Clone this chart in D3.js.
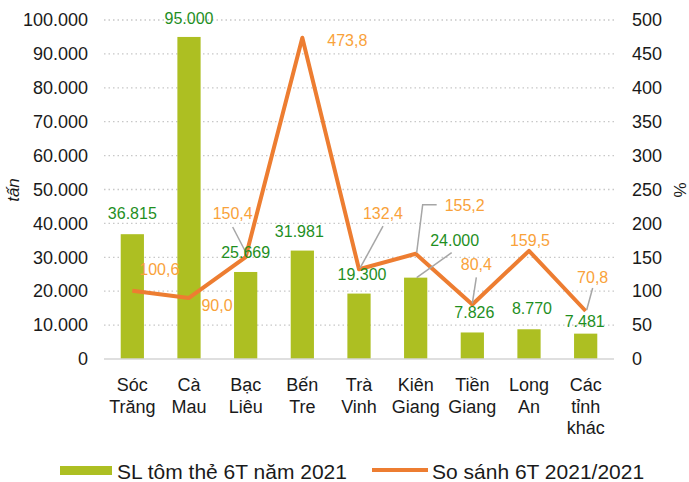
<!DOCTYPE html>
<html><head><meta charset="utf-8">
<script src="https://cdn.jsdelivr.net/npm/d3@7"></script>
<style>body{margin:0;background:#fff}svg{display:block;font-family:"Liberation Sans",Arial,sans-serif}</style>
</head><body><svg id="c" width="689" height="482"></svg>
<script>
const categories = [["Sóc","Trăng"],["Cà","Mau"],["Bạc","Liêu"],["Bến","Tre"],["Trà","Vinh"],["Kiên","Giang"],["Tiền","Giang"],["Long","An"],["Các","tỉnh","khác"]];
const volume = [36815, 95000, 25669, 31981, 19300, 24000, 7826, 8770, 7481];
const ratio = [100.6, 90.0, 150.4, 473.8, 132.4, 155.2, 80.4, 159.5, 70.8];
const leftTicks = [0,10000,20000,30000,40000,50000,60000,70000,80000,90000,100000];
const rightTicks = [0,50,100,150,200,250,300,350,400,450,500];
const seriesNames = ["SL tôm thẻ 6T năm 2021", "So sánh 6T 2021/2021"];

// label placement (dx, dy relative to mark; leader elbows)
const volLabelOff = [[0,-21],[0,-19],[0,-20],[-3,-20],[3,-20],[39,-38],[2,-20],[3,-21],[-1,-13]];
const ratLabelOff = [[27,-22],[28,7],[-13,-44],[45,2],[24,-56],[49,-49],[4,-40],[1,-11],[7,-34]];
const ratLeader = [null,null,[[-13,-30],[1,-3]],null,[[24,-43],[1,-1]],[[1,-1],[7,-49],[21,-49]],[[4,-27],[0,-1]],null,[[7,-23],[1,-1]]];
const volLeader = [null,null,null,null,null,[[1,0],[36,-25]],null,null,null];

const svg = d3.select("#c");
const m = {l:104, r:614, t:20, b:359};
const x = d3.scaleBand().domain(d3.range(categories.length)).range([m.l, m.r]).paddingInner(0.59).paddingOuter(0.295);
const yL = d3.scaleLinear().domain([0,100000]).range([m.b, m.t]);
const yR = d3.scaleLinear().domain([0,500]).range([m.b, m.t]);
const fmt = v => d3.format(",")(v).replace(/,/g,".");
const fmtR = v => v.toFixed(1).replace(".",",");

// grid
svg.append("g").selectAll("line").data(leftTicks.filter(d=>d>0)).join("line")
  .attr("x1",m.l).attr("x2",m.r).attr("y1",d=>yL(d)).attr("y2",d=>yL(d))
  .attr("stroke","#c8c8c8").attr("stroke-width",1.3).attr("stroke-dasharray","1.5,3");

// axes
const axL = svg.append("g").attr("transform",`translate(${m.l},0)`)
  .call(d3.axisLeft(yL).tickValues(leftTicks).tickFormat(fmt).tickSize(0).tickPadding(16));
const axR = svg.append("g").attr("transform",`translate(${m.r},0)`)
  .call(d3.axisRight(yR).tickValues(rightTicks).tickSize(0).tickPadding(18));
[axL, axR].forEach(a=>{a.select(".domain").remove(); a.selectAll("text").attr("font-size",18).attr("fill","#1a1a1a").attr("font-family","Liberation Sans, Arial, sans-serif");});

// bars
svg.append("g").selectAll("rect").data(volume).join("rect")
  .attr("x",(d,i)=>x(i)).attr("width",x.bandwidth())
  .attr("y",d=>yL(d)).attr("height",d=>m.b-yL(d)).attr("fill","#adbf22");

// baseline
svg.append("line").attr("x1",m.l).attr("x2",m.r).attr("y1",m.b).attr("y2",m.b).attr("stroke","#d4d4d4").attr("stroke-width",1.5);

// x labels
const xl = svg.append("g").selectAll("text").data(categories).join("text")
  .attr("x",(d,i)=>x(i)+x.bandwidth()/2).attr("y",391).attr("text-anchor","middle")
  .attr("font-size",18).attr("fill","#1a1a1a");
xl.selectAll("tspan").data(d=>d).join("tspan").attr("x",function(){return this.parentNode.getAttribute("x");})
  .attr("dy",(d,i)=>i?21.5:0).text(d=>d);

// line
const cx = i => x(i)+x.bandwidth()/2;
svg.append("path").datum(ratio).attr("fill","none").attr("stroke","#ed7d31").attr("stroke-width",4).attr("stroke-linejoin","round")
  .attr("d", d3.line().x((d,i)=>cx(i)).y(d=>yR(d)));

// leaders
const leaderG = svg.append("g").attr("fill","none").attr("stroke","#a6a6a6").attr("stroke-width",1.5);
ratio.forEach((v,i)=>{ if(!ratLeader[i]) return; const px=cx(i), py=yR(v);
  leaderG.append("polyline").attr("points", ratLeader[i].map(p=>[px+p[0],py+p[1]].join(",")).join(" ")); });
volume.forEach((v,i)=>{ if(!volLeader[i]) return; const px=cx(i), py=yL(v);
  leaderG.append("polyline").attr("points", volLeader[i].map(p=>[px+p[0],py+p[1]].join(",")).join(" ")); });

// data labels
svg.append("g").selectAll("text").data(volume).join("text")
  .attr("x",(d,i)=>cx(i)+volLabelOff[i][0]).attr("y",(d,i)=>yL(d)+volLabelOff[i][1]+6)
  .attr("text-anchor","middle").attr("font-size",16).attr("fill","#1f8f1f").text(fmt);
svg.append("g").selectAll("text").data(ratio).join("text")
  .attr("x",(d,i)=>cx(i)+ratLabelOff[i][0]).attr("y",(d,i)=>yR(d)+ratLabelOff[i][1]+6)
  .attr("text-anchor","middle").attr("font-size",16).attr("fill","#f9a23a").text(fmtR);

// axis titles
svg.append("text").attr("transform","translate(19,190) rotate(-90)").attr("text-anchor","middle")
  .attr("font-size",17).attr("font-style","italic").attr("fill","#1a1a1a").text("tấn");
svg.append("text").attr("transform","translate(686,190) rotate(-90)").attr("text-anchor","middle")
  .attr("font-size",17).attr("fill","#1a1a1a").text("%");

// legend
const lg = svg.append("g");
lg.append("rect").attr("x",60).attr("y",466).attr("width",52).attr("height",9).attr("fill","#adbf22");
lg.append("text").attr("x",117).attr("y",479).attr("font-size",21).attr("fill","#1a1a1a").text(seriesNames[0]);
lg.append("line").attr("x1",372).attr("x2",428).attr("y1",470).attr("y2",470).attr("stroke","#ed7d31").attr("stroke-width",4);
lg.append("text").attr("x",432).attr("y",479).attr("font-size",21).attr("fill","#1a1a1a").text(seriesNames[1]);
</script></body></html>
